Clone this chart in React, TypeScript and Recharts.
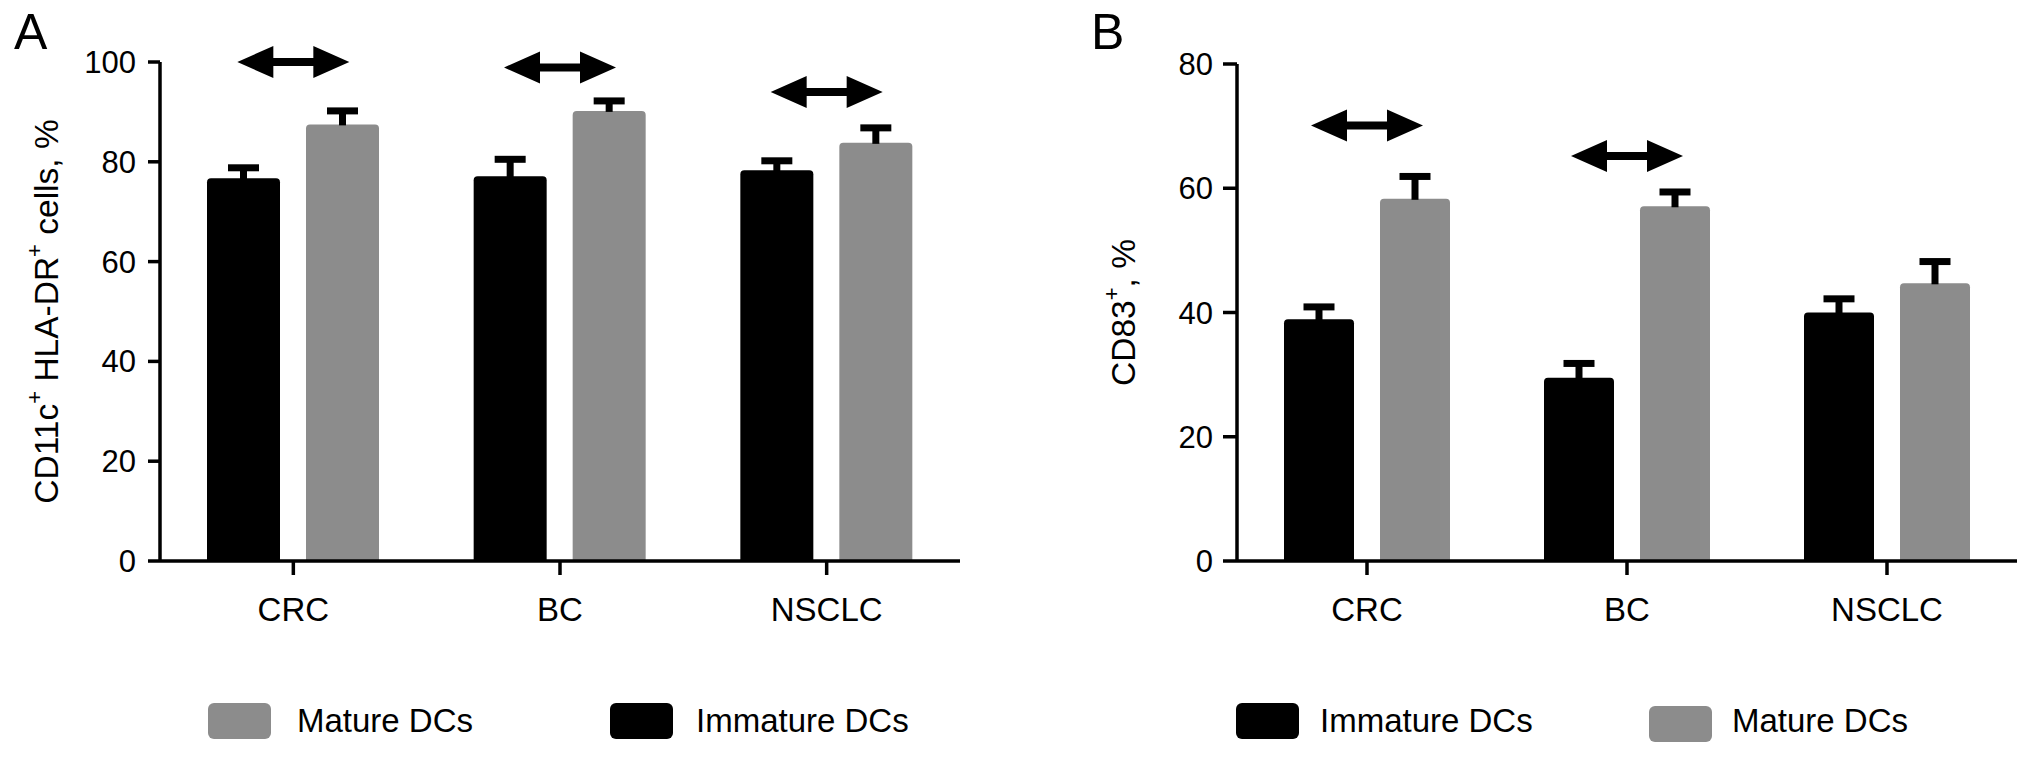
import React from 'react';
import { BarChart, Bar, XAxis, YAxis, Legend, ReferenceDot, Label } from 'recharts';

// ---------- data ----------
const categories = ['CRC', 'BC', 'NSCLC'];

const immatureA = [76.7, 77.1, 78.3];
const immatureErrA = [2.1, 3.4, 1.9];
const matureA = [87.5, 90.2, 83.8];
const matureErrA = [2.7, 2.0, 3.0];

const immatureB = [38.9, 29.5, 40.0];
const immatureErrB = [2.0, 2.3, 2.2];
const matureB = [58.3, 57.1, 44.7];
const matureErrB = [3.6, 2.3, 3.5];

const ticksA = [0, 20, 40, 60, 80, 100];
const ticksB = [0, 20, 40, 60, 80];

const arrowCatsA = ['CRC', 'BC', 'NSCLC'];
const arrowYA = [100, 98.9, 94.0];
const arrowCatsB = ['CRC', 'BC'];
const arrowYB = [70.1, 65.2];

const IMMATURE = 'Immature DCs';
const MATURE = 'Mature DCs';
const legendOrderA = [MATURE, IMMATURE];
const legendOrderB = [IMMATURE, MATURE];

// ---------- styles ----------
const FONT = "'Liberation Sans', Arial, Helvetica, sans-serif";
const BLACK = '#000000';
const GREY = '#8c8c8c';
const colorOf: Record<string, string> = { [IMMATURE]: BLACK, [MATURE]: GREY };

const buildData = (imm: number[], immErr: number[], mat: number[], matErr: number[]) =>
  categories.map((c, i) => ({
    cat: c,
    immature: imm[i],
    immatureErr: immErr[i],
    mature: mat[i],
    matureErr: matErr[i],
  }));

const dataA = buildData(immatureA, immatureErrA, matureA, matureErrA);
const dataB = buildData(immatureB, immatureErrB, matureB, matureErrB);

const makeBarShape = (valKey: string, errKey: string) => (props: any) => {
  const { x, y, width, height, fill, payload } = props;
  const value = payload[valKey];
  const err = payload[errKey];
  const pxPerUnit = value ? height / value : 0;
  const capY = y - err * pxPerUnit;
  const r = 4;
  const cx = x + width / 2;
  const d = `M${x},${y + height} L${x},${y + r} Q${x},${y} ${x + r},${y} L${x + width - r},${y} Q${x + width},${y} ${x + width},${y + r} L${x + width},${y + height} Z`;
  return (
    <g>
      <path d={d} fill={fill} />
      <line x1={cx} x2={cx} y1={y + 1} y2={capY} stroke={BLACK} strokeWidth={7} />
      <line x1={cx - 15.5} x2={cx + 15.5} y1={capY} y2={capY} stroke={BLACK} strokeWidth={7} />
    </g>
  );
};

const Arrow = (props: any) => {
  const { cx, cy } = props;
  const L = 56;
  const H = 20;
  const hh = 16;
  const s = 4;
  const pts = [
    [cx - L, cy],
    [cx - H, cy - hh],
    [cx - H, cy - s],
    [cx + H, cy - s],
    [cx + H, cy - hh],
    [cx + L, cy],
    [cx + H, cy + hh],
    [cx + H, cy + s],
    [cx - H, cy + s],
    [cx - H, cy + hh],
  ]
    .map((p) => p.join(','))
    .join(' ');
  return <polygon points={pts} fill={BLACK} />;
};

const YTitle = (props: any) => {
  const { viewBox, offsetX, kind } = props;
  const vx = viewBox?.x ?? 0;
  const vy = viewBox?.y ?? 0;
  const vh = viewBox?.height ?? 0;
  const cx = vx + offsetX;
  const cy = vy + vh / 2;
  return (
    <text
      x={cx}
      y={cy}
      transform={`rotate(-90 ${cx} ${cy})`}
      textAnchor="middle"
      dominantBaseline="central"
      fontFamily={FONT}
      fontSize={33.5}
      fill={BLACK}
    >
      {kind === 'A' ? (
        <>
          <tspan>CD11c</tspan>
          <tspan dy={-12} fontSize={22}>+</tspan>
          <tspan dy={12}> HLA-DR</tspan>
          <tspan dy={-12} fontSize={22}>+</tspan>
          <tspan dy={12}> cells, %</tspan>
        </>
      ) : (
        <>
          <tspan>CD83</tspan>
          <tspan dy={-12} fontSize={22}>+</tspan>
          <tspan dy={12}>, %</tspan>
        </>
      )}
    </text>
  );
};

const makeLegend = (order: string[], swatchX: number[], textX: number[], swatchDy: number[]) => () => (
  <div style={{ position: 'relative', width: '100%', height: 50, fontFamily: FONT }}>
    {order.map((name, i) => (
      <React.Fragment key={name}>
        <div
          style={{
            position: 'absolute',
            left: swatchX[i],
            top: 3 + swatchDy[i],
            width: 63,
            height: 36,
            borderRadius: 6,
            background: colorOf[name],
          }}
        />
        <div
          style={{
            position: 'absolute',
            left: textX[i],
            top: 0,
            height: 42,
            lineHeight: '42px',
            fontSize: 33,
            color: BLACK,
            whiteSpace: 'nowrap',
          }}
        >
          {name}
        </div>
      </React.Fragment>
    ))}
  </div>
);

const legendA = makeLegend(legendOrderA, [208, 610], [297, 696], [0, 0]);
const legendB = makeLegend(legendOrderB, [220, 633], [304, 716], [0, 3]);

const axisLineStyle = { stroke: BLACK, strokeWidth: 3.5 };
const tickStyleY = { fontSize: 31, fill: BLACK, fontFamily: FONT };
const tickStyleX = { fontSize: 33, fill: BLACK, fontFamily: FONT };

const PanelA = () => (
  <BarChart
    width={1016}
    height={765}
    data={dataA}
    margin={{ top: 62, right: 56, bottom: 174, left: 0 }}
    barGap={26}
  >
    <XAxis
      dataKey="cat"
      tickSize={14}
      tickMargin={23}
      axisLine={axisLineStyle}
      tickLine={axisLineStyle}
      tick={tickStyleX}
      interval={0}
    />
    <YAxis
      width={160}
      domain={[0, 100]}
      ticks={ticksA}
      tickSize={12}
      tickMargin={12}
      axisLine={axisLineStyle}
      tickLine={axisLineStyle}
      tick={tickStyleY}
      interval={0}
    >
      <Label content={(p: any) => <YTitle {...p} offsetX={46} kind="A" />} />
    </YAxis>
    <Bar
      dataKey="immature"
      name={IMMATURE}
      fill={BLACK}
      barSize={73}
      shape={makeBarShape('immature', 'immatureErr')}
      isAnimationActive={false}
    />
    <Bar
      dataKey="mature"
      name={MATURE}
      fill={GREY}
      barSize={73}
      shape={makeBarShape('mature', 'matureErr')}
      isAnimationActive={false}
    />
    {arrowCatsA.map((c, i) => (
      <ReferenceDot key={c} x={c} y={arrowYA[i]} ifOverflow="visible" shape={Arrow} />
    ))}
    <Legend
      layout="horizontal"
      verticalAlign="middle"
      align="center"
      content={legendA}
      wrapperStyle={{ position: 'absolute', left: 0, top: 700, width: 1016, height: 50 }}
    />
  </BarChart>
);

const PanelB = () => (
  <BarChart
    width={1016}
    height={765}
    data={dataB}
    margin={{ top: 64, right: 15, bottom: 174, left: 0 }}
    barGap={26}
  >
    <XAxis
      dataKey="cat"
      tickSize={14}
      tickMargin={23}
      axisLine={axisLineStyle}
      tickLine={axisLineStyle}
      tick={tickStyleX}
      interval={0}
    />
    <YAxis
      width={221}
      domain={[0, 80]}
      ticks={ticksB}
      tickSize={14}
      tickMargin={10}
      axisLine={axisLineStyle}
      tickLine={axisLineStyle}
      tick={tickStyleY}
      interval={0}
    >
      <Label content={(p: any) => <YTitle {...p} offsetX={107} kind="B" />} />
    </YAxis>
    <Bar
      dataKey="immature"
      name={IMMATURE}
      fill={BLACK}
      barSize={70}
      shape={makeBarShape('immature', 'immatureErr')}
      isAnimationActive={false}
    />
    <Bar
      dataKey="mature"
      name={MATURE}
      fill={GREY}
      barSize={70}
      shape={makeBarShape('mature', 'matureErr')}
      isAnimationActive={false}
    />
    {arrowCatsB.map((c, i) => (
      <ReferenceDot key={c} x={c} y={arrowYB[i]} ifOverflow="visible" shape={Arrow} />
    ))}
    <Legend
      layout="horizontal"
      verticalAlign="middle"
      align="center"
      content={legendB}
      wrapperStyle={{ position: 'absolute', left: 0, top: 700, width: 1016, height: 50 }}
    />
  </BarChart>
);

const panelLetter = (left: number): React.CSSProperties => ({
  position: 'absolute',
  left,
  top: 7,
  fontFamily: FONT,
  fontSize: 50,
  lineHeight: '50px',
  color: BLACK,
});

export default function App() {
  return (
    <div
      style={{
        position: 'absolute',
        left: 0,
        top: 0,
        width: 2032,
        height: 765,
        background: '#ffffff',
        overflow: 'hidden',
      }}
    >
      <div style={{ position: 'absolute', left: 0, top: 0 }}>
        <PanelA />
      </div>
      <div style={{ position: 'absolute', left: 1016, top: 0 }}>
        <PanelB />
      </div>
      <div style={panelLetter(14)}>A</div>
      <div style={panelLetter(1091)}>B</div>
    </div>
  );
}
